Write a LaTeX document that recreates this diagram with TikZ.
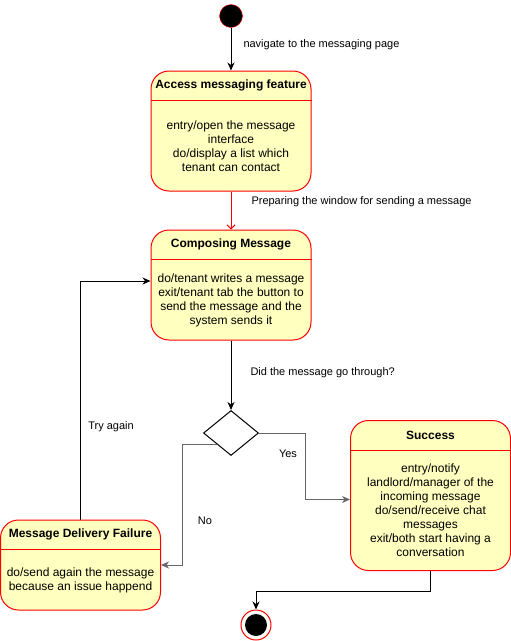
\documentclass[tikz,border=0pt]{standalone}
\usepackage{fontspec}
\setmainfont{Liberation Sans}
\usepackage{tikz}
\usetikzlibrary{arrows.meta,shapes.geometric,calc}
\definecolor{statefill}{HTML}{FFFFC0}
\definecolor{statered}{HTML}{FF0000}
\definecolor{linegrey}{HTML}{666666}
\tikzset{
  statebox/.style={draw=statered, fill=statefill, rounded corners=18pt, line width=1pt, inner sep=0pt},
  headline/.style={draw=statered, line width=1pt},
  titletext/.style={font=\fontsize{12}{14}\selectfont\bfseries, inner sep=0pt},
  bodytext/.style={font=\fontsize{12}{14}\selectfont, align=center, inner sep=0pt},
  edgetext/.style={font=\fontsize{11}{13}\selectfont, inner sep=0pt},
  flow/.style={-{Stealth[length=8pt,width=7pt,inset=2.5pt]}, draw=black, line width=1pt},
  greyflow/.style={flow, draw=linegrey},
  redflow/.style={-{Straight Barb[length=4pt,width=8pt]}, draw=statered, line width=1pt},
  decision/.style={diamond, draw=black, fill=white, line width=1pt, minimum width=55pt, minimum height=45pt, inner sep=0pt},
  startdot/.style={circle, draw=statered, fill=black, minimum size=23pt, inner sep=0pt},
  endring/.style={circle, draw=statered, fill=white, line width=1pt, minimum size=30pt, inner sep=0pt},
  enddot/.style={circle, fill=black, minimum size=22pt, inner sep=0pt}
}

\begin{document}
\begin{tikzpicture}[x=1pt, y=-1pt]
  \useasboundingbox (0,0) rectangle (511,641);
  % initial and final states
  \node[startdot] (init) at (231,16) {};
  \node[endring] (final) at (256,625) {};
  \node[enddot] (finaldot) at (final) {};
  % Access messaging feature
  \node[statebox, minimum width=160pt, minimum height=120pt] (access) at (231,131) {};
  \draw[headline] ([yshift=-30pt]access.north west) -- ([yshift=-30pt]access.north east);
  \node[titletext] (accesstitle) at ([yshift=-15pt]access.north) {Access messaging feature};
  \node[bodytext] (accessbody) at ([yshift=-15pt]access.center) {entry/open the message\\interface\\do/display a list which\\tenant can contact};
  % Composing Message
  \node[statebox, minimum width=160pt, minimum height=110pt] (compose) at (231,285) {};
  \draw[headline] ([yshift=-30pt]compose.north west) -- ([yshift=-30pt]compose.north east);
  \node[titletext] (composetitle) at ([yshift=-15pt]compose.north) {Composing Message};
  \node[bodytext] (composebody) at ([yshift=-15pt]compose.center) {do/tenant writes a message\\exit/tenant tab the button to\\send the message and the\\system sends it};
  % decision
  \node[decision] (check) at (231,433) {};
  % Success
  \node[statebox, minimum width=160pt, minimum height=150pt] (success) at (430.5,495.5) {};
  \draw[headline] ([yshift=-30pt]success.north west) -- ([yshift=-30pt]success.north east);
  \node[titletext] (successtitle) at ([yshift=-15pt]success.north) {Success};
  \node[bodytext] (successbody) at ([yshift=-15pt]success.center) {entry/notify\\landlord/manager of the\\incoming message\\do/send/receive chat\\messages\\exit/both start having a\\conversation};
  % Message Delivery Failure
  \node[statebox, minimum width=160pt, minimum height=90pt] (failure) at (80.5,565) {};
  \draw[headline] ([yshift=-30pt]failure.north west) -- ([yshift=-30pt]failure.north east);
  \node[titletext] (failuretitle) at ([yshift=-15pt]failure.north) {Message Delivery Failure};
  \node[bodytext] (failurebody) at ([yshift=-15pt]failure.center) {do/send again the message\\because an issue happend};

  % transitions
  \draw[flow] (init) -- node[edgetext, anchor=west, xshift=12pt, pos=0.4] (navtext) {navigate to the messaging page} (access);
  \draw[redflow] (access) -- node[edgetext, anchor=west, xshift=20pt, pos=0.26] (preptext) {Preparing the window for sending a message} (compose);
  \draw[flow] (compose) -- node[edgetext, anchor=west, xshift=19pt, pos=0.46] (didtext) {Did the message go through?} (check);
  \draw[greyflow] (check.east) -- ++(46,0) |- ([yshift=-4pt]success.west);
  \draw[greyflow] (check.south west) -- ++(-35,0) |- (failure.east);
  \draw[flow] (failure.north) |- ([yshift=4pt]compose.west);
  \draw[flow] (success.south) -- ++(0,20) -| (final.north);
  \node[edgetext] (yestext) at (288,454) {Yes};
  \node[edgetext] (notext) at (205,521) {No};
  \node[edgetext] (trytext) at (111,427) {Try again};
\end{tikzpicture}
\end{document}
